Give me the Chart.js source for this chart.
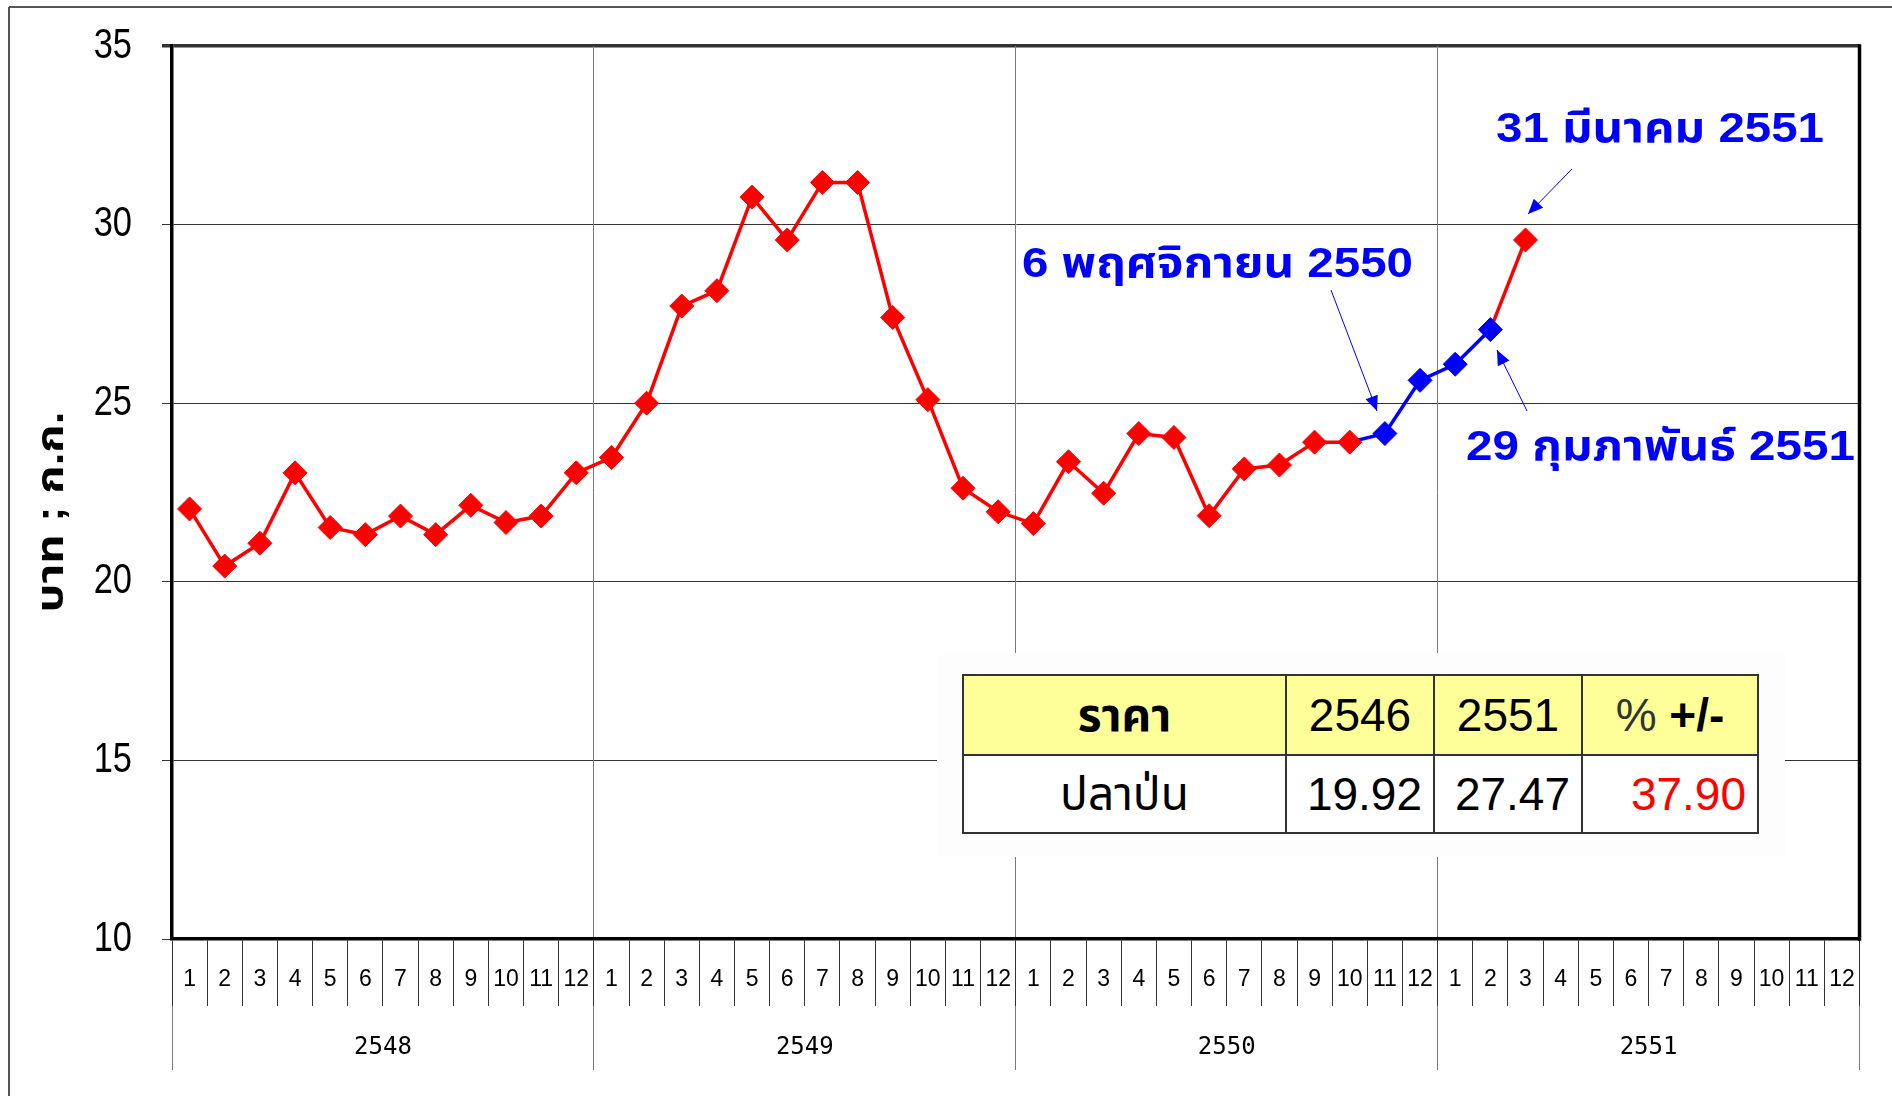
<!DOCTYPE html>
<html>
<head>
<meta charset="utf-8">
<script src="https://cdn.jsdelivr.net/npm/chart.js@4.4.1/dist/chart.umd.min.js"></script>
<style>
html,body{margin:0;padding:0;background:#fff;}
#wrap{position:relative;width:1892px;height:1096px;overflow:hidden;background:#fff;}
#c{position:absolute;left:0;top:0;}
#mask{position:absolute;left:937px;top:653px;width:848px;height:204px;background:#fdfdfd;}
#tbl{position:absolute;left:962px;top:674px;width:795px;height:158px;border-collapse:collapse;table-layout:fixed;
  font-family:"Liberation Sans",Arial,"Noto Sans Thai","Loma","Tlwg Typo","Garuda",sans-serif;font-size:46px;color:#000;}
#tbl td{border:2.5px solid #333;padding:0;line-height:1;white-space:nowrap;overflow:hidden;}
#tbl tr.h td{background:#FFFF99;text-align:center;height:78px;}
#tbl tr.r td{background:#fff;text-align:right;padding-right:11px;height:76px;}
#tbl tr.r td:first-child{text-align:center;padding-right:0;}
#ov{position:absolute;left:0;top:0;}
</style>
</head>
<body>
<div id="wrap">
  <canvas id="c" width="1892" height="1096" style="width:1892px;height:1096px"></canvas>
  <div id="mask"></div>
  <table id="tbl">
    <colgroup><col style="width:323px"><col style="width:148px"><col style="width:148px"><col style="width:176px"></colgroup>
    <tbody></tbody>
  </table>
  <svg id="ov" width="1892" height="1096" xmlns="http://www.w3.org/2000/svg"></svg>
</div>
<script>
// ---------- data ----------
const years = ['2548', '2549', '2550', '2551'];
const monthsPerYear = ['1','2','3','4','5','6','7','8','9','10','11','12'];
const monthLabels = years.flatMap(() => monthsPerYear);
const price2548 = [22.04, 20.44, 21.08, 23.05, 21.52, 21.32, 21.84, 21.32, 22.14, 21.66, 21.84, 23.05];
const price2549 = [23.48, 25.00, 27.72, 28.15, 30.77, 29.57, 31.18, 31.18, 27.40, 25.10, 22.62, 21.96];
const price2550 = [21.63, 23.36, 22.48, 24.15, 24.04, 21.85, 23.16, 23.27, 23.91, 23.91, 24.15, 25.64];
const price2551 = [26.09, 27.06, 29.57, null, null, null, null, null, null, null, null, null];
const prices = [...price2548, ...price2549, ...price2550, ...price2551];
const highlighted = [34, 35, 36, 37]; // 11/2550 .. 2/2551 drawn in blue
const yTicks = [10, 15, 20, 25, 30, 35];
const tableHeader = ['ราคา', '2546', '2551', '% +/-'];
const tableRow = ['ปลาป่น', '19.92', '27.47', '37.90'];
const yTitle = 'บาท ; ก.ก.';
const notes = ['6 พฤศจิกายน 2550', '31 มีนาคม 2551', '29 กุมภาพันธ์ 2551'];

// ---------- styles ----------
const RED = '#FF0000', BLUE = '#0000FF';
const SANS = '"Liberation Sans",Arial,sans-serif';
const MONO = '"DejaVu Sans Mono","Liberation Mono",monospace';
const pointColors = prices.map((v, i) => highlighted.includes(i) ? BLUE : RED);

const rightBorder = {
  id: 'rightBorder',
  afterDraw(chart) {
    const {ctx, chartArea} = chart;
    ctx.save();
    ctx.strokeStyle = '#000';
    ctx.lineWidth = 3.5;
    ctx.beginPath();
    ctx.moveTo(chartArea.right, chartArea.top - 1.75);
    ctx.lineTo(chartArea.right, chartArea.bottom + 1.75);
    ctx.stroke();
    ctx.restore();
  }
};

// y tick labels are drawn by the scale itself, horizontally condensed (narrow face)
function narrowYLabels(s) {
  if (s._narrowed) return;
  s._narrowed = true;
  const orig = s.drawLabels;
  s.drawLabels = function (area) {
    const ctx = this.ctx;
    const xr = this.right - this.options.grid.tickLength - this.options.ticks.padding;
    ctx.save();
    ctx.translate(xr, 0);
    ctx.scale(0.82, 1);
    ctx.translate(-xr, 0);
    orig.call(this, area);
    ctx.restore();
  };
}

new Chart(document.getElementById('c'), {
  type: 'line',
  data: {
    labels: monthLabels,
    datasets: [{
      data: prices,
      xAxisID: 'x',
      yAxisID: 'y',
      borderColor: RED,
      borderWidth: 3.5,
      tension: 0,
      spanGaps: false,
      pointStyle: 'rectRot',
      pointRadius: 12,
      pointHoverRadius: 12,
      pointBackgroundColor: pointColors,
      pointBorderColor: pointColors,
      pointBorderWidth: 1,
      segment: {
        borderColor: c => highlighted.includes(c.p1DataIndex) ? BLUE : RED
      }
    }]
  },
  options: {
    responsive: false,
    animation: false,
    devicePixelRatio: 1,
    layout: { padding: { left: 0, top: 46, right: 32.5, bottom: 26 } },
    plugins: { legend: { display: false }, tooltip: { enabled: false }, title: { display: false } },
    scales: {
      y: {
        type: 'linear',
        min: 10, max: 35,
        afterBuildTicks: s => { s.ticks = yTicks.map(v => ({ value: v })); },
        ticks: { font: { family: SANS, size: 42 }, color: '#000', padding: 30 },
        grid: {
          color: '#333',
          lineWidth: c => (c.tick && c.tick.value === 35) ? 3.5 : 1,
          tickLength: 10,
          drawTicks: true
        },
        border: { display: true, color: '#000', width: 3.5 },
        afterFit: s => { s.width = 172; s.paddingTop = 0; s.paddingBottom = 0; narrowYLabels(s); }
      },
      x: {
        type: 'category',
        labels: monthLabels,
        offset: true,
        weight: 0,
        grid: { offset: true, drawOnChartArea: false, tickLength: 67, color: '#333', lineWidth: 1 },
        border: { display: true, color: '#000', width: 3.5 },
        ticks: { autoSkip: false, maxRotation: 0, minRotation: 0, font: { family: SANS, size: 23 }, color: '#000', padding: -40 },
        afterFit: s => { s.height = 67; }
      },
      x2: {
        type: 'category',
        labels: years,
        position: 'bottom',
        offset: true,
        weight: 1,
        grid: {
          offset: true, drawOnChartArea: true, tickLength: 64, lineWidth: 1,
          color: c => (c.index === 0 || c.index === years.length) ? 'rgba(0,0,0,0)' : '#7a7a7a',
          tickColor: '#7a7a7a'
        },
        border: { display: false },
        ticks: { autoSkip: false, maxRotation: 0, font: { family: MONO, size: 24 }, color: '#000', padding: -37 },
        afterFit: s => { s.height = 64; }
      }
    }
  },
  plugins: [rightBorder]
});

// ---------- table ----------
const tbody = document.querySelector('#tbl tbody');
const hr = document.createElement('tr'); hr.className = 'h';
tableHeader.forEach((t, i) => {
  const td = document.createElement('td');
  if (i === 0) { td.innerHTML = '<b>' + t + '</b>'; }
  else if (t.indexOf('+/-') >= 0) { td.innerHTML = '<span style="font-weight:normal;color:#333">%</span> <b>+/-</b>'; }
  else td.textContent = t;
  hr.appendChild(td);
});
tbody.appendChild(hr);
const rr = document.createElement('tr'); rr.className = 'r';
tableRow.forEach((t, i) => {
  const td = document.createElement('td');
  td.textContent = t;
  if (i === 3) td.style.color = RED;
  rr.appendChild(td);
});
tbody.appendChild(rr);

// ---------- overlay: frame, axis title, notes, arrows ----------
const NS = 'http://www.w3.org/2000/svg';
const svg = document.getElementById('ov');
function el(name, attrs, text) {
  const e = document.createElementNS(NS, name);
  for (const k in attrs) e.setAttribute(k, attrs[k]);
  if (text !== undefined) e.textContent = text;
  svg.appendChild(e);
  return e;
}
el('line', { x1: 9, y1: 7, x2: 1892, y2: 7, stroke: '#555', 'stroke-width': 2 });
el('line', { x1: 9, y1: 7, x2: 9, y2: 1096, stroke: '#555', 'stroke-width': 2 });

const THAI = '"Liberation Sans","Noto Sans Thai","Loma","Tlwg Typo","Garuda",sans-serif';
el('text', { transform: 'translate(63,512) rotate(-90)', 'text-anchor': 'middle', 'font-family': THAI,
  'font-weight': 'bold', 'font-size': 38, fill: '#000', textLength: 201, lengthAdjust: 'spacingAndGlyphs' }, yTitle);

const notePos = [[1022, 277, 391], [1496, 142, 328], [1466, 460, 389]];
notes.forEach((t, i) => {
  const [x, y, w] = notePos[i];
  el('text', { x, y, 'font-family': THAI, 'font-weight': 'bold', 'font-size': 42, fill: BLUE,
    textLength: w, lengthAdjust: 'spacingAndGlyphs' }, t);
});

function arrow(x1, y1, x2, y2) {
  el('line', { x1, y1, x2, y2, stroke: BLUE, 'stroke-width': 1 });
  const a = Math.atan2(y2 - y1, x2 - x1), L = 15, W = 6.5;
  const bx = x2 - L * Math.cos(a), by = y2 - L * Math.sin(a);
  const px = -Math.sin(a) * W, py = Math.cos(a) * W;
  el('polygon', { points: `${x2},${y2} ${bx + px},${by + py} ${bx - px},${by - py}`, fill: BLUE });
}
arrow(1331, 290, 1377, 411);
arrow(1572, 169, 1528, 214);
arrow(1527, 411, 1497, 350);
</script>
</body>
</html>
